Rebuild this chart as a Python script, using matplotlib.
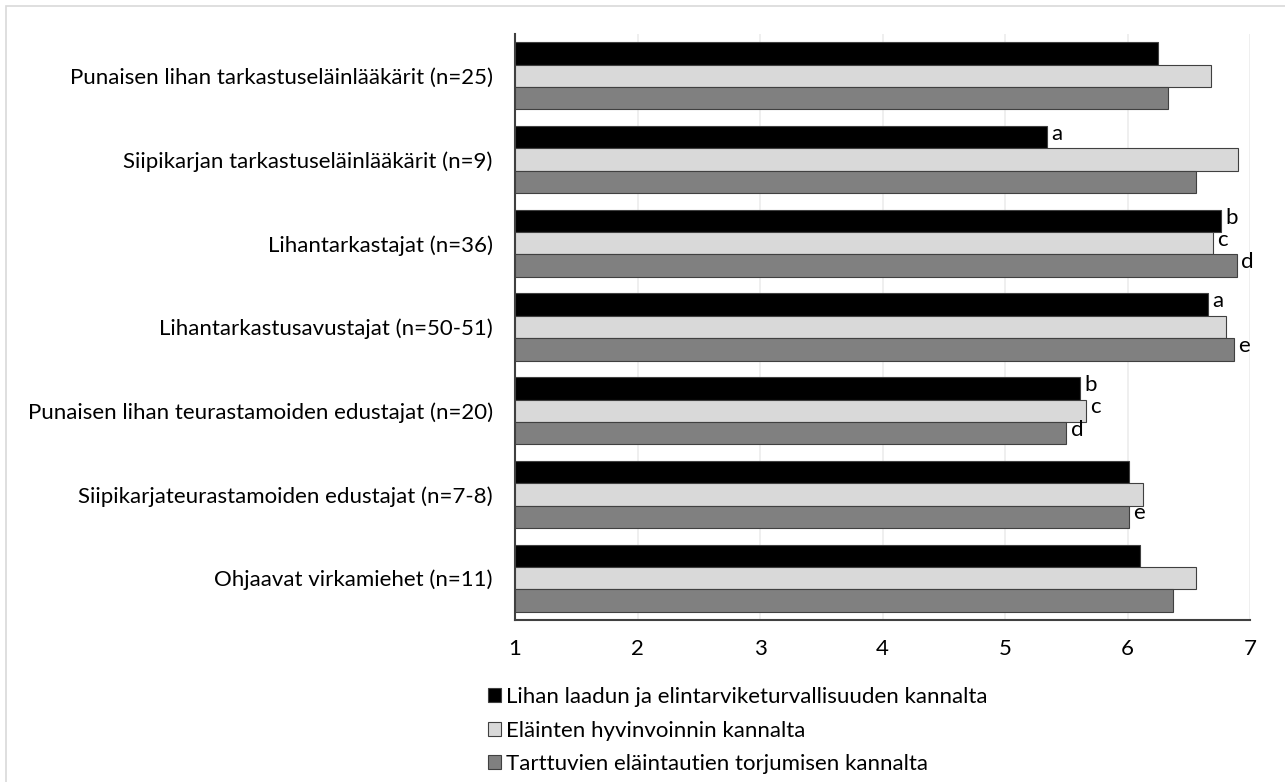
import matplotlib
matplotlib.use("Agg")
import matplotlib.pyplot as plt
from matplotlib.patches import Rectangle
import numpy as np

plt.rcParams['font.family'] = ['Lato', 'DejaVu Sans']

categories = [
    "Punaisen lihan tarkastuseläinlääkärit (n=25)",
    "Siipikarjan tarkastuseläinlääkärit (n=9)",
    "Lihantarkastajat (n=36)",
    "Lihantarkastusavustajat (n=50-51)",
    "Punaisen lihan teurastamoiden edustajat (n=20)",
    "Siipikarjateurastamoiden edustajat (n=7-8)",
    "Ohjaavat virkamiehet (n=11)",
]
series_names = [
    "Lihan laadun ja elintarviketurvallisuuden kannalta",
    "Eläinten hyvinvoinnin kannalta",
    "Tarttuvien eläintautien torjumisen kannalta",
]
quality = [6.25, 5.34, 6.76, 6.66, 5.61, 6.01, 6.10]
welfare = [6.68, 6.90, 6.70, 6.80, 5.66, 6.13, 6.56]
disease = [6.33, 6.56, 6.89, 6.87, 5.50, 6.01, 6.37]
letters_quality = ["", "a", "b", "a", "b", "", ""]
letters_welfare = ["", "", "c", "", "c", "", ""]
letters_disease = ["", "", "d", "e", "d", "e", ""]
xticks = [1, 2, 3, 4, 5, 6, 7]

colors = ["#000000", "#d9d9d9", "#808080"]
FS = 16

fig = plt.figure(figsize=(12.85, 7.82), dpi=100)
ax = fig.add_axes([515/1285, 1-620/782, (1250-515)/1285, (620-34)/782])

n = len(categories)
y = np.arange(n)
h = 0.267
offsets = [-h, 0, h]
all_vals = [quality, welfare, disease]
all_letters = [letters_quality, letters_welfare, letters_disease]
for vals, letters, off, c, name in zip(all_vals, all_letters, offsets, colors, series_names):
    ax.barh(y + off, np.array(vals) - 1, left=1, height=h, color=c,
            edgecolor="#404040", linewidth=0.8, label=name, zorder=3)
    for yi, v, lt in zip(y + off, vals, letters):
        if lt:
            ax.text(v + 0.035, yi - 0.04, lt, va="center", ha="left", fontsize=FS, color="black")

ax.set_xlim(1, 7)
ax.set_ylim(n - 0.5, -0.5)
ax.set_yticks(y)
ax.set_yticklabels(categories, fontsize=FS)
ax.set_xticks(xticks)
ax.set_xticklabels([str(t) for t in xticks], fontsize=FS)
ax.tick_params(axis='y', length=0, pad=16)
ax.tick_params(axis='x', length=0, pad=14)
ax.grid(axis='x', color="#ececec", linewidth=1.2, zorder=0)
for s in ["top", "right"]:
    ax.spines[s].set_visible(False)
ax.spines["left"].set_color("#404040")
ax.spines["bottom"].set_color("#404040")
ax.spines["left"].set_linewidth(1.5)
ax.spines["bottom"].set_linewidth(1.5)

handles, labels = ax.get_legend_handles_labels()
leg = fig.legend(handles, labels, loc="upper left",
                 bbox_to_anchor=(477/1285, 1-676/782), frameon=False,
                 fontsize=FS, handlelength=0.6, handleheight=0.6,
                 handletextpad=0.2, labelspacing=0.61, borderpad=0)

fig.patches.append(Rectangle((6/1285, -0.1), 1.2, 1 - 6/782 + 0.1, transform=fig.transFigure,
                             fill=False, edgecolor="#d9d9d9", linewidth=1.2, clip_on=False))

fig.savefig("out.png", dpi=100)
